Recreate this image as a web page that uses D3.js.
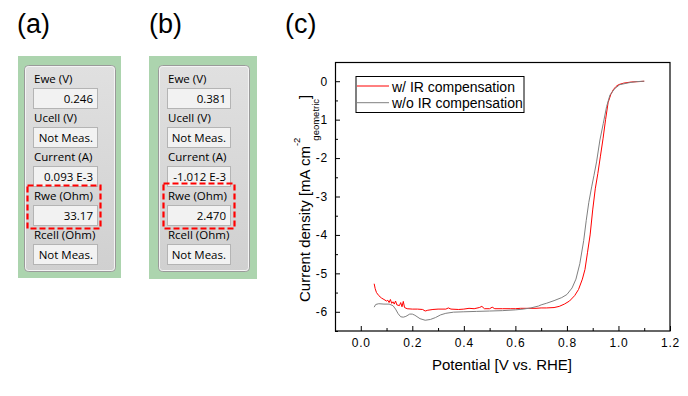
<!DOCTYPE html>
<html><head><meta charset="utf-8">
<script src="https://cdn.jsdelivr.net/npm/d3@7"></script>
<style>body{margin:0;background:#fff}svg{display:block}</style>
</head><body>
<svg id="c" width="688" height="396"></svg>
<script>
// ---------- data ----------
const panelLabels = ["Ewe (V)", "Ucell (V)", "Current (A)", "Rwe (Ohm)", "Rcell (Ohm)"];
const panelAValues = ["0.246", "Not Meas.", "0.093 E-3", "33.17", "Not Meas."];
const panelBValues = ["0.381", "Not Meas.", "-1.012 E-3", "2.470", "Not Meas."];
const panelTitles = ["(a)", "(b)", "(c)"];

const seriesNames = ["w/ IR compensation", "w/o IR compensation"];
const withIR_x = [0.052,0.056,0.061,0.07,0.08,0.09,0.10,0.105,0.11,0.115,0.12,0.125,0.13,0.135,0.14,0.15,0.155,0.16,0.165,0.17,0.18,0.20,0.22,0.24,0.25,0.26,0.28,0.30,0.33,0.34,0.35,0.38,0.40,0.42,0.44,0.46,0.47,0.48,0.50,0.51,0.52,0.55,0.58,0.60,0.62,0.65,0.68,0.70,0.72,0.75,0.77,0.79,0.81,0.83,0.845,0.86,0.87,0.88,0.89,0.90,0.91,0.92,0.93,0.94,0.95,0.96,0.97,0.98,0.99,1.00,1.02,1.05,1.08,1.10];
const withIR_y = [-5.27,-5.40,-5.50,-5.58,-5.64,-5.68,-5.72,-5.70,-5.76,-5.68,-5.78,-5.74,-5.80,-5.72,-5.82,-5.84,-5.76,-5.87,-5.73,-5.89,-5.92,-5.93,-5.93,-5.94,-5.98,-5.96,-5.94,-5.93,-5.93,-5.90,-5.93,-5.94,-5.93,-5.91,-5.92,-5.89,-5.86,-5.92,-5.92,-5.88,-5.92,-5.92,-5.92,-5.92,-5.91,-5.91,-5.91,-5.90,-5.90,-5.89,-5.86,-5.80,-5.72,-5.58,-5.42,-5.15,-4.90,-4.45,-4.00,-3.35,-2.80,-2.40,-1.95,-1.50,-1.00,-0.55,-0.35,-0.22,-0.14,-0.09,-0.05,-0.02,-0.01,0];
const withoutIR_x = [0.052,0.058,0.07,0.09,0.11,0.125,0.135,0.145,0.155,0.165,0.175,0.19,0.20,0.21,0.23,0.25,0.27,0.29,0.31,0.33,0.36,0.40,0.45,0.50,0.55,0.60,0.63,0.66,0.69,0.70,0.72,0.75,0.78,0.80,0.82,0.835,0.85,0.865,0.875,0.885,0.896,0.905,0.915,0.928,0.941,0.954,0.967,0.986,1.005,1.04,1.07,1.10];
const withoutIR_y = [-5.88,-5.81,-5.79,-5.80,-5.80,-5.84,-5.93,-6.05,-6.13,-6.14,-6.12,-6.06,-6.06,-6.09,-6.18,-6.22,-6.20,-6.15,-6.08,-6.04,-6.01,-6.00,-5.99,-5.98,-5.97,-5.95,-5.93,-5.90,-5.85,-5.82,-5.78,-5.71,-5.63,-5.55,-5.38,-5.15,-4.75,-4.15,-3.62,-3.15,-2.75,-2.45,-2.10,-1.53,-1.10,-0.66,-0.36,-0.19,-0.09,-0.04,-0.01,0];
const xTicks = [0.0,0.2,0.4,0.6,0.8,1.0,1.2];
const xMinorTicks = [-0.1,0.1,0.3,0.5,0.7,0.9,1.1];
const yTicks = [0,-1,-2,-3,-4,-5,-6];
const yMinorTicks = [0.5,-0.5,-1.5,-2.5,-3.5,-4.5,-5.5,-6.5];
const seriesColors = ["#ff0000", "#808080"];

// ---------- drawing ----------
const svg = d3.select("#c");
const guiFont = "'Open Sans', 'Noto Sans', sans-serif";
const chartFont = "'Liberation Sans', Arial, sans-serif";

// panel titles
const titleX = [17, 149, 285];
svg.selectAll("text.title").data(panelTitles).join("text")
  .attr("class","title").attr("x",(d,i)=>titleX[i]).attr("y",33)
  .attr("font-family",chartFont).attr("font-size",27).attr("fill","#000").text(d=>d);

function drawPanel(g, values, geom) {
  g.append("rect").attr("x",geom.gx).attr("y",56).attr("width",geom.gw).attr("height",geom.gh).attr("fill","#acd4ae");
  const grad = "pg" + geom.px;
  const lg = svg.append("defs").append("linearGradient").attr("id",grad).attr("x1",0).attr("x2",0).attr("y1",0).attr("y2",1);
  lg.append("stop").attr("offset","0%").attr("stop-color","#e0e0e0");
  lg.append("stop").attr("offset","100%").attr("stop-color","#d0d0d0");
  g.append("rect").attr("x",geom.px+0.5).attr("y",65.5).attr("width",91).attr("height",206).attr("rx",4)
    .attr("fill","url(#"+grad+")").attr("stroke","#9a9a9a").attr("stroke-width",1);
  g.append("rect").attr("x",geom.px+1.5).attr("y",66.5).attr("width",89).attr("height",204).attr("rx",3)
    .attr("fill","none").attr("stroke","#f4f4f4").attr("stroke-width",1);
  const rows = g.selectAll("g.row").data(panelLabels).join("g").attr("class","row");
  rows.append("text").attr("x",geom.bx+1).attr("y",(d,i)=>83+i*39)
    .attr("font-family",guiFont).attr("font-size",11.5).attr("fill","#000").text(d=>d);
  rows.append("rect").attr("x",geom.bx+0.5).attr("y",(d,i)=>88.5+i*39).attr("width",geom.bw).attr("height",20)
    .attr("fill","#f2f2f2").attr("stroke","#b4b4b4");
  rows.append("text").attr("x",geom.bx+geom.bw-4).attr("y",(d,i)=>102.5+i*39).attr("text-anchor","end")
    .attr("font-family",guiFont).attr("font-size",11.5).attr("fill","#000").text((d,i)=>values[i]);
  g.append("rect").attr("x",geom.rx).attr("y",geom.ry).attr("width",geom.rw).attr("height",geom.rh)
    .attr("fill","none").attr("stroke","#ff0000").attr("stroke-width",2.2).attr("stroke-dasharray","6,3");
}
drawPanel(svg.append("g"), panelAValues, {gx:18,gw:103,gh:222,px:24,bx:33,bw:64,rx:27.5,ry:185.5,rw:73,rh:43});
drawPanel(svg.append("g"), panelBValues, {gx:149,gw:108,gh:223,px:158,bx:167,bw:63,rx:163.5,ry:183.5,rw:71,rh:45});

// chart c
const x = d3.scaleLinear().domain([-0.1,1.2]).range([335,670]);
const y = d3.scaleLinear().domain([-6.5,0.5]).range([331,62]);

const gx = svg.append("g").attr("transform","translate(0,331)")
  .call(d3.axisBottom(x).tickValues(xTicks).tickFormat(d3.format(".1f")).tickSizeInner(-5).tickSizeOuter(0).tickPadding(7));
const gxm = svg.append("g").attr("transform","translate(0,331)")
  .call(d3.axisBottom(x).tickValues(xMinorTicks).tickFormat("").tickSizeInner(-3).tickSizeOuter(0));
const gy = svg.append("g").attr("transform","translate(335,0)")
  .call(d3.axisLeft(y).tickValues(yTicks).tickFormat(d=>String(d)).tickSizeInner(-5).tickSizeOuter(0).tickPadding(7));
const gym = svg.append("g").attr("transform","translate(335,0)")
  .call(d3.axisLeft(y).tickValues(yMinorTicks).tickFormat("").tickSizeInner(-3).tickSizeOuter(0));
[gx,gxm,gy,gym].forEach(g=>{
  g.select(".domain").remove();
  g.selectAll("line").attr("stroke","#000");
  g.selectAll("text").attr("font-family",chartFont).attr("font-size",12).attr("letter-spacing",0.8).attr("fill","#000");
});

const line = d3.line().x(d=>x(d[0])).y(d=>y(d[1]));
const series = [withIR_x.map((v,i)=>[v,withIR_y[i]]), withoutIR_x.map((v,i)=>[v,withoutIR_y[i]])];
svg.selectAll("path.series").data(series).join("path").attr("class","series")
  .attr("d",line).attr("fill","none").attr("stroke",(d,i)=>seriesColors[i]).attr("stroke-width",1);

svg.append("rect").attr("x",335.5).attr("y",62.5).attr("width",334.5).attr("height",268.5)
  .attr("fill","none").attr("stroke","#000").attr("stroke-width",1.2);

// legend
const lg = svg.append("g");
lg.append("rect").attr("x",356).attr("y",76.5).attr("width",168).attr("height",36).attr("fill","#fff").attr("stroke","#000");
const li = lg.selectAll("g.li").data(seriesNames).join("g").attr("class","li");
li.append("line").attr("x1",357).attr("x2",389).attr("y1",(d,i)=>86+i*16.7).attr("y2",(d,i)=>86+i*16.7)
  .attr("stroke",(d,i)=>seriesColors[i]).attr("stroke-width",1);
li.append("text").attr("x",392).attr("y",(d,i)=>91.7+i*16.6).attr("font-family",chartFont).attr("font-size",14)
  .attr("fill","#000").text(d=>d);

// axis titles
svg.append("text").attr("x",502).attr("y",370).attr("text-anchor","middle")
  .attr("font-family",chartFont).attr("font-size",15).text("Potential [V vs. RHE]");
const yl = svg.append("text").attr("transform","translate(310,302) rotate(-90)")
  .attr("font-family",chartFont).attr("font-size",15);
yl.append("tspan").text("Current density [mA cm");
yl.append("tspan").attr("dy",-10).attr("font-size",9.5).text("-2");
yl.append("tspan").attr("dy",19).attr("dx",-3).attr("font-size",9.5).text("geometric");
yl.append("tspan").attr("dy",-9).text("]");
</script>
</body></html>
